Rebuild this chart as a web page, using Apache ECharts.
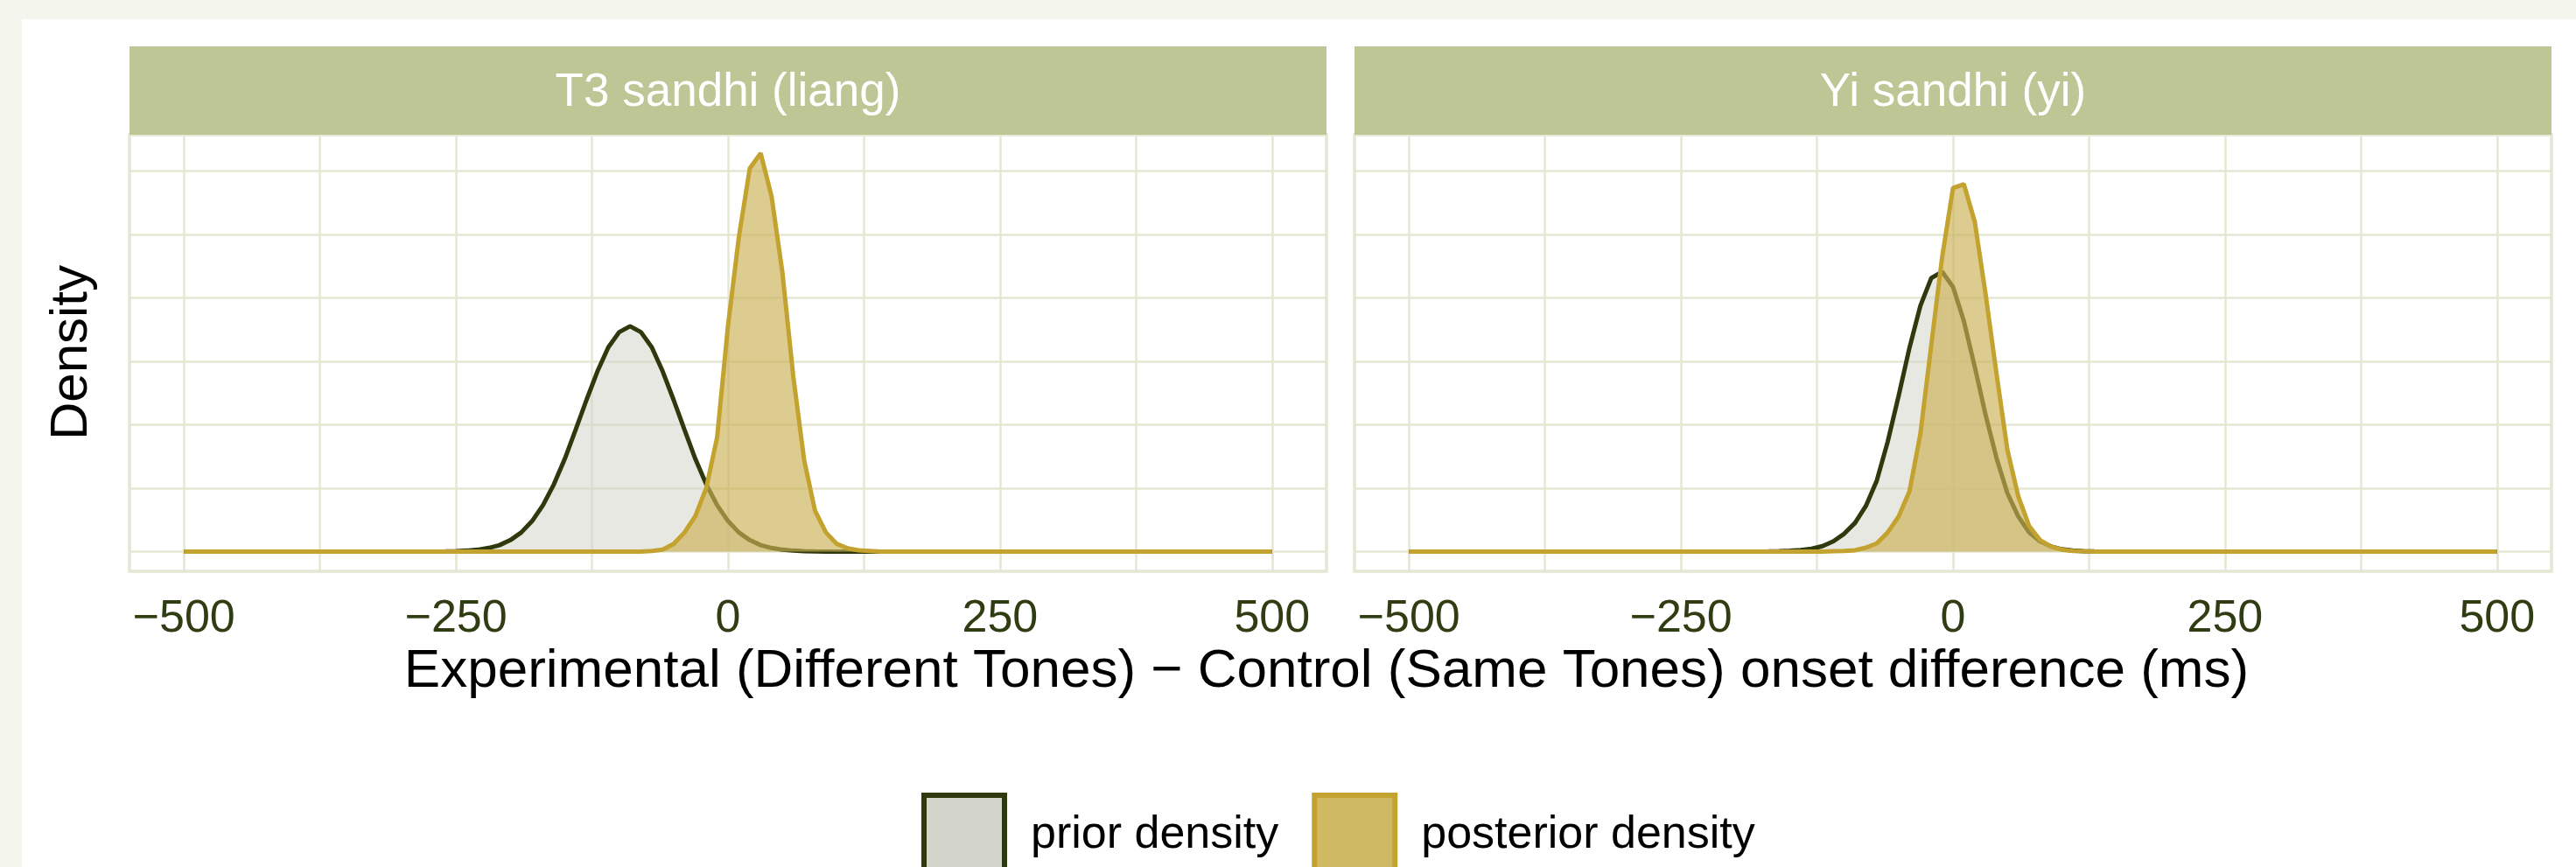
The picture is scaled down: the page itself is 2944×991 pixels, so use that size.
<!DOCTYPE html>
<html>
<head>
<meta charset="utf-8">
<style>
  html, body { margin: 0; padding: 0; background: #f4f5ec; }
  #chart { width: 2944px; height: 991px; }
</style>
<script src="https://cdn.jsdelivr.net/npm/echarts@6/dist/echarts.min.js"></script>
</head>
<body>
<div id="chart"></div>
<script>
// ---------------- data ----------------
const facets = ['T3 sandhi (liang)', 'Yi sandhi (yi)'];
const seriesNames = ['prior density', 'posterior density'];

// T3 sandhi (liang) – prior density
const t3PriorX = [-500, -270, -260, -250, -240, -230, -220, -210, -200, -190, -180, -170, -160, -150, -140, -130, -120, -110, -100, -90, -80, -70, -60, -50, -40, -30, -20, -10, 0, 10, 20, 30, 40, 50, 60, 70, 80, 90, 500];
const t3PriorY = [0, 0, 0.0000075, 0.000016, 0.000035, 0.00007, 0.00014, 0.00025, 0.00045, 0.00075, 0.0012, 0.00183, 0.00265, 0.00365, 0.0048, 0.00598, 0.0071, 0.00805, 0.00865, 0.00888, 0.00865, 0.00805, 0.0071, 0.00598, 0.0048, 0.00365, 0.00265, 0.00183, 0.0012, 0.00075, 0.00045, 0.00025, 0.00014, 0.00007, 0.000035, 0.000016, 0.0000075, 0, 0];

// T3 sandhi (liang) – posterior density
const t3PostX = [-500, -80, -70, -60, -50, -40, -30, -20, -10, 0, 10, 20, 30, 40, 50, 60, 70, 80, 90, 100, 110, 120, 130, 140, 500];
const t3PostY = [0, 0, 0.00002, 0.000075, 0.0003, 0.00075, 0.0014, 0.0025, 0.0045, 0.0089, 0.0124, 0.0151, 0.0157, 0.014, 0.011, 0.0069, 0.0036, 0.0016, 0.00075, 0.0003, 0.000125, 0.00005, 0.000025, 0, 0];

// Yi sandhi (yi) – prior density
const yiPriorX = [-500, -180, -170, -160, -150, -140, -130, -120, -110, -100, -90, -80, -70, -60, -50, -40, -30, -20, -10, 0, 10, 20, 30, 40, 50, 60, 70, 80, 90, 100, 110, 120, 130, 140, 500];
const yiPriorY = [0, 0, 0.000005, 0.0000125, 0.0000275, 0.000055, 0.00011, 0.00021, 0.0004, 0.0007, 0.00113, 0.0018, 0.0028, 0.00433, 0.00613, 0.00803, 0.00968, 0.01078, 0.01103, 0.01043, 0.00908, 0.00728, 0.00538, 0.00368, 0.0023, 0.00138, 0.00075, 0.0004, 0.0002, 0.0000875, 0.0000375, 0.000015, 0.000005, 0, 0];

// Yi sandhi (yi) – posterior density
const yiPostX = [-500, -120, -110, -100, -90, -80, -70, -60, -50, -40, -30, -20, -10, 0, 10, 20, 30, 40, 50, 60, 70, 80, 90, 100, 110, 120, 130, 500];
const yiPostY = [0, 0, 0.0000125, 0.000025, 0.00005, 0.00015, 0.000325, 0.00075, 0.001375, 0.002375, 0.004625, 0.008125, 0.0116, 0.01433, 0.01448, 0.013, 0.01013, 0.007, 0.004, 0.002175, 0.001, 0.00045, 0.0002, 0.000075, 0.000025, 0.00001, 0, 0];

// axis breaks / tick labels
const xTickValues = [-500, -250, 0, 250, 500];
const xGridValues = [-500, -375, -250, -125, 0, 125, 250, 375, 500];
const yGridValues = [0, 0.0025, 0.005, 0.0075, 0.01, 0.0125, 0.015];
const xTitle = 'Experimental (Different Tones) \u2212 Control (Same Tones) onset difference (ms)';
const yTitle = 'Density';

// ---------------- styling / layout ----------------
const FONT = '"Liberation Sans", Arial, Helvetica, sans-serif';
const GRID_COLOR = '#e4e8d3';
const STRIP_COLOR = '#bdc694';
const PRIOR_LINE = '#2e3a0e';
const PRIOR_FILL = 'rgba(209,211,199,0.52)';
const POST_LINE = '#c4a22f';
const POST_FILL = 'rgba(203,178,86,0.66)';
const TICK_COLOR = '#303c12';

const panelLeft = [148, 1548];
const panelTop = 154;
const panelW = 1368;
const panelH = 499;
const stripTop = 53;
const stripH = 101;
const xMin = -550, xMax = 550;
const yMin = -0.00078, yMax = 0.01643;

const pairs = (xs, ys) => xs.map((x, i) => [x, ys[i]]);
const panelData = [
  { prior: pairs(t3PriorX, t3PriorY), post: pairs(t3PostX, t3PostY) },
  { prior: pairs(yiPriorX, yiPriorY), post: pairs(yiPostX, yiPostY) }
];

const grids = [], xAxes = [], yAxes = [], series = [], graphics = [];

graphics.push({ type: 'rect', z: -10, silent: true,
  shape: { x: 25, y: 22, width: 2944 - 25, height: 991 - 22 },
  style: { fill: '#ffffff' } });

facets.forEach((name, i) => {
  grids.push({ left: panelLeft[i], top: panelTop, width: panelW, height: panelH,
    show: true, backgroundColor: '#ffffff', borderColor: GRID_COLOR, borderWidth: 3.5 });
  xAxes.push({ type: 'value', gridIndex: i, min: xMin, max: xMax,
    axisLine: { show: false },
    splitLine: { show: false },
    axisTick: { show: true, customValues: xTickValues, length: 15, lineStyle: { color: GRID_COLOR, width: 2.5 } },
    axisLabel: { show: true, customValues: xTickValues, margin: 29, color: TICK_COLOR,
      fontFamily: FONT, fontSize: 52,
      formatter: v => String(v).replace('-', '\u2212') } });
  yAxes.push({ type: 'value', gridIndex: i, min: yMin, max: yMax,
    axisLine: { show: false }, axisTick: { show: false }, axisLabel: { show: false },
    splitLine: { show: false } });

  // background grid lines (drawn through the axes' scales)
  series.push({ type: 'line', xAxisIndex: i, yAxisIndex: i, data: [], z: 1, silent: true,
    markLine: { z: 1, silent: true, symbol: ['none', 'none'], animation: false, precision: 8,
      label: { show: false },
      lineStyle: { color: GRID_COLOR, width: 2.5, type: 'solid' },
      emphasis: { disabled: true },
      data: xGridValues.map(v => ({ xAxis: v })).concat(yGridValues.map(v => ({ yAxis: v }))) } });

  series.push({ type: 'line', name: seriesNames[0], xAxisIndex: i, yAxisIndex: i,
    data: panelData[i].prior, symbol: 'none', showSymbol: false, z: 3,
    lineStyle: { color: PRIOR_LINE, width: 5 }, itemStyle: { color: PRIOR_LINE },
    areaStyle: { color: PRIOR_FILL, opacity: 1 }, emphasis: { disabled: true } });
  series.push({ type: 'line', name: seriesNames[1], xAxisIndex: i, yAxisIndex: i,
    data: panelData[i].post, symbol: 'none', showSymbol: false, z: 4,
    lineStyle: { color: POST_LINE, width: 5 }, itemStyle: { color: POST_LINE },
    areaStyle: { color: POST_FILL, opacity: 1 }, emphasis: { disabled: true } });

  // facet strip
  graphics.push({ type: 'rect', z: 10, silent: true,
    shape: { x: panelLeft[i], y: stripTop, width: panelW, height: stripH },
    style: { fill: STRIP_COLOR } });
  graphics.push({ type: 'text', z: 11, silent: true,
    x: panelLeft[i] + panelW / 2, y: 106,
    style: { text: name, fill: '#ffffff', font: '53px ' + FONT, align: 'center', verticalAlign: 'middle' } });
});

graphics.push({ type: 'text', z: 11, silent: true, x: 1516, y: 768,
  style: { text: xTitle, fill: '#000000', font: '62px ' + FONT, align: 'center', verticalAlign: 'middle' } });
graphics.push({ type: 'text', z: 11, silent: true, x: 82, y: 403, rotation: Math.PI / 2,
  style: { text: yTitle, fill: '#000000', font: '60px ' + FONT, align: 'center', verticalAlign: 'middle' } });

const chart = echarts.init(document.getElementById('chart'), null, { renderer: 'canvas' });
chart.setOption({
  animation: false,
  backgroundColor: '#f4f5ec',
  grid: grids,
  xAxis: xAxes,
  yAxis: yAxes,
  series: series,
  graphic: graphics,
  legend: {
    left: 1053, top: 906, padding: 0, orient: 'horizontal',
    itemWidth: 92, itemHeight: 92, itemGap: 38, selectedMode: false,
    textStyle: { fontFamily: FONT, fontSize: 52, color: '#000000', padding: [0, 0, 0, 25] },
    data: [
      { name: seriesNames[0], icon: 'rect', itemStyle: { color: '#d3d4ca', borderColor: PRIOR_LINE, borderWidth: 6 } },
      { name: seriesNames[1], icon: 'rect', itemStyle: { color: '#cfb963', borderColor: POST_LINE, borderWidth: 6 } }
    ]
  }
});
</script>
</body>
</html>
